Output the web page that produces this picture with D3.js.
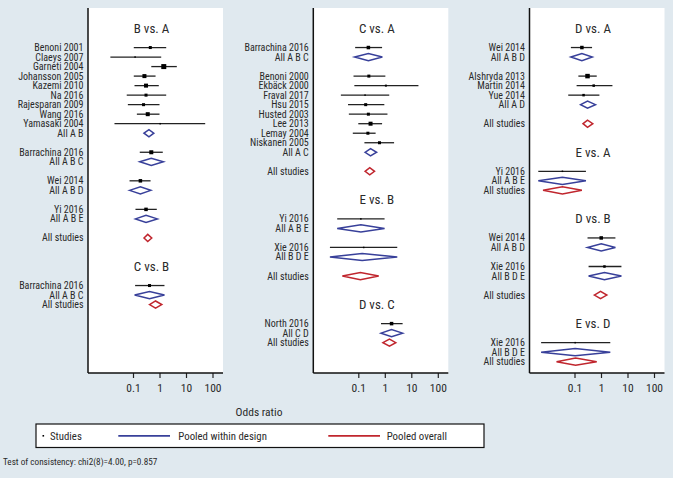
<!DOCTYPE html>
<html><head><meta charset="utf-8">
<script src="https://cdn.jsdelivr.net/npm/d3@7"></script>
<style>
html,body{margin:0;padding:0;background:#e0e9ef;}
svg{display:block;}
text{font-family:"Liberation Sans Narrow","Roboto Condensed","DejaVu Sans Condensed","Open Sans",sans-serif;fill:#2a2a2a;}
</style></head>
<body><svg id="c" width="673" height="478"></svg>
<script>
// kind: t = title, s = study, d = pooled within design, o = pooled overall
// [kind, label, row, OR, lower, upper, markerSize]
const panelLeft = [
  ["t","B vs. A",0],
  ["s","Benoni 2001",2,0.45,0.107,1.79,3],
  ["s","Claeys 2007",3,0.12,0.014,1.16,1.5],
  ["s","Garneti 2004",4,1.45,0.49,4.5,5],
  ["s","Johansson 2005",5,0.27,0.107,0.71,4],
  ["s","Kazemi 2010",6,0.31,0.114,0.94,4],
  ["s","Na 2016",7,0.31,0.058,1.79,3],
  ["s","Rajesparan 2009",8,0.25,0.064,1.0,3],
  ["s","Wang 2016",9,0.36,0.14,1.0,4],
  ["s","Yamasaki 2004",10,1.06,0.02,53,1.5],
  ["d","All A B",11,0.40,0.26,0.61],
  ["s","Barrachina 2016",13,0.49,0.18,1.33,4],
  ["d","All A B C",14,0.49,0.18,1.4],
  ["s","Wei 2014",16,0.19,0.074,0.46,3.5],
  ["d","All A B D",17,0.19,0.074,0.47],
  ["s","Yi 2016",19,0.31,0.124,0.79,3.5],
  ["d","All A B E",20,0.31,0.124,0.83],
  ["o","All studies",22,0.36,0.26,0.51],
  ["t","C vs. B",25],
  ["s","Barrachina 2016",27,0.42,0.12,1.54,3],
  ["d","All A B C",28,0.42,0.115,1.54],
  ["o","All studies",29,0.71,0.42,1.22]
];
const panelMiddle = [
  ["t","C vs. A",0],
  ["s","Barrachina 2016",2,0.24,0.076,0.79,3.5],
  ["d","All A B C",3,0.24,0.073,0.81],
  ["s","Benoni 2000",5,0.25,0.066,1.05,3],
  ["s","Ekbäck 2000",6,1.1,0.071,18.6,2],
  ["s","Fraval 2017",7,0.18,0.022,1.47,1.5],
  ["s","Hsu 2015",8,0.19,0.041,0.96,3],
  ["s","Husted 2003",9,0.24,0.044,1.26,3],
  ["s","Lee 2013",10,0.29,0.10,0.79,4],
  ["s","Lemay 2004",11,0.23,0.062,0.45,3],
  ["s","Niskanen 2005",12,0.63,0.17,2.24,3],
  ["d","All A C",13,0.29,0.18,0.49],
  ["o","All studies",15,0.27,0.18,0.41],
  ["t","E vs. B",18],
  ["s","Yi 2016",20,0.125,0.016,0.98,1.5],
  ["d","All A B E",21,0.125,0.016,0.98],
  ["s","Xie 2016",23,0.16,0.0085,2.95,1.5],
  ["d","All B D E",24,0.14,0.0085,2.95],
  ["o","All studies",26,0.12,0.025,0.59],
  ["t","D vs. C",29],
  ["s","North 2016",31,1.8,0.72,4.7,3.5],
  ["d","All C D",32,1.8,0.72,4.7],
  ["o","All studies",33,1.5,0.85,2.6]
];
const panelRight = [
  ["t","D vs. A",0],
  ["s","Wei 2014",2,0.19,0.073,0.46,3.5],
  ["d","All A B D",3,0.19,0.073,0.47],
  ["s","Alshryda 2013",5,0.31,0.14,0.69,4.5],
  ["s","Martin 2014",6,0.53,0.12,2.7,2.5],
  ["s","Yue 2014",7,0.22,0.058,0.87,2.5],
  ["d","All A D",8,0.31,0.17,0.62],
  ["o","All studies",10,0.31,0.21,0.49],
  ["t","E vs. A",13],
  ["s","Yi 2016",15,0.035,0.0043,0.27,1.5],
  ["d","All A B E",16,0.035,0.0043,0.27],
  ["o","All studies",17,0.035,0.0065,0.19],
  ["t","D vs. B",20],
  ["s","Wei 2014",22,1.02,0.31,3.5,3.5],
  ["d","All A B D",23,1.02,0.31,3.5],
  ["s","Xie 2016",25,1.35,0.34,5.9,2.5],
  ["d","All B D E",26,1.35,0.34,5.9],
  ["o","All studies",28,0.96,0.56,1.66],
  ["t","E vs. D",31],
  ["s","Xie 2016",33,0.106,0.0055,2.24,1.5],
  ["d","All B D E",34,0.106,0.0055,2.24],
  ["o","All studies",35,0.11,0.021,0.69]
];
const tickValues = [0.1, 1, 10, 100];
const tickLabels = ["0.1", "1", "10", "100"];
const legendLabels = ["Studies", "Pooled within design", "Pooled overall"];
const xTitle = "Odds ratio";
const footnote = "Test of consistency: chi2(8)=4.00, p=0.857";

const svg = d3.select("#c");
const BLUE = "#38409a", RED = "#c0262e";
const plotTop = 8, plotBottom = 373, pw = 135;
const y = d3.scaleLinear().domain([0, 35]).range([28.5, 28.5 + 35 * 9.52]);
const panels = [
  {rows: panelLeft, x0: 88},
  {rows: panelMiddle, x0: 313.3},
  {rows: panelRight, x0: 529.5}
];

panels.forEach(p => {
  const g = svg.append("g");
  const x = d3.scaleLog().domain([0.1, 100]).range([p.x0 + 45, p.x0 + 124.5]);
  g.append("rect").attr("x", p.x0).attr("y", plotTop).attr("width", pw).attr("height", plotBottom - plotTop).attr("fill", "#fff");
  const ax = g.append("g").attr("transform", `translate(0,${plotBottom})`)
    .call(d3.axisBottom(x).tickValues(tickValues).tickFormat((d, i) => tickLabels[i]).tickSize(5).tickPadding(6));
  ax.select(".domain").remove();
  ax.selectAll(".tick line").attr("stroke", "#222").attr("stroke-width", 1.2);
  ax.selectAll(".tick text").attr("font-size", 11.5).attr("fill", "#2a2a2a")
    .style("font-family", '"Liberation Sans Narrow","Roboto Condensed","DejaVu Sans Condensed",sans-serif');
  g.append("line").attr("x1", p.x0).attr("x2", p.x0 + pw).attr("y1", plotBottom).attr("y2", plotBottom).attr("stroke", "#111").attr("stroke-width", 1.5);
  g.append("line").attr("x1", p.x0).attr("x2", p.x0).attr("y1", plotTop).attr("y2", plotBottom).attr("stroke", "#111").attr("stroke-width", 1.5);

  p.rows.forEach(r => {
    const [kind, label, row] = r;
    const yy = y(row);
    if (kind === "t") {
      g.append("text").attr("x", p.x0 + pw / 2 - 4).attr("y", yy).attr("dy", "0.35em")
        .attr("text-anchor", "middle").attr("font-size", 13).text(label);
      return;
    }
    g.append("text").attr("x", p.x0 - 4.5).attr("y", yy).attr("dy", "0.35em")
      .attr("text-anchor", "end").attr("font-size", 10).text(label);
    const [, , , or, lo, hi, sz] = r;
    if (kind === "s") {
      g.append("line").attr("x1", x(lo)).attr("x2", x(hi)).attr("y1", yy).attr("y2", yy)
        .attr("stroke", "#222").attr("stroke-width", 1.3);
      g.append("rect").attr("x", x(or) - sz / 2).attr("y", yy - sz / 2).attr("width", sz).attr("height", sz).attr("fill", "#000");
    } else {
      const h = 3.6;
      const pts = [[x(lo), yy], [x(or), yy - h], [x(hi), yy], [x(or), yy + h]];
      g.append("polygon").attr("points", pts.map(d => d.join(",")).join(" "))
        .attr("fill", "none").attr("stroke", kind === "d" ? BLUE : RED).attr("stroke-width", 1.5);
    }
  });
});

svg.append("text").attr("x", 259).attr("y", 411.5).attr("dy", "0.35em").attr("text-anchor", "middle").attr("font-size", 11.5).text(xTitle);

const lg = svg.append("g");
lg.append("rect").attr("x", 36).attr("y", 424).attr("width", 448).attr("height", 23.5).attr("fill", "#fff").attr("stroke", "#111").attr("stroke-width", 1.2);
const ly = 435.8;
lg.append("rect").attr("x", 42.5).attr("y", ly - 0.8).attr("width", 1.6).attr("height", 1.6).attr("fill", "#000");
lg.append("text").attr("x", 50).attr("y", ly).attr("dy", "0.35em").attr("font-size", 10.8).text(legendLabels[0]);
lg.append("line").attr("x1", 118.3).attr("x2", 170).attr("y1", ly).attr("y2", ly).attr("stroke", BLUE).attr("stroke-width", 1.8);
lg.append("text").attr("x", 178.3).attr("y", ly).attr("dy", "0.35em").attr("font-size", 10.8).text(legendLabels[1]);
lg.append("line").attr("x1", 328.3).attr("x2", 380).attr("y1", ly).attr("y2", ly).attr("stroke", RED).attr("stroke-width", 1.8);
lg.append("text").attr("x", 386.7).attr("y", ly).attr("dy", "0.35em").attr("font-size", 10.8).text(legendLabels[2]);

svg.append("text").attr("x", 3).attr("y", 461.5).attr("dy", "0.35em").attr("font-size", 9.2).text(footnote);
</script></body></html>
